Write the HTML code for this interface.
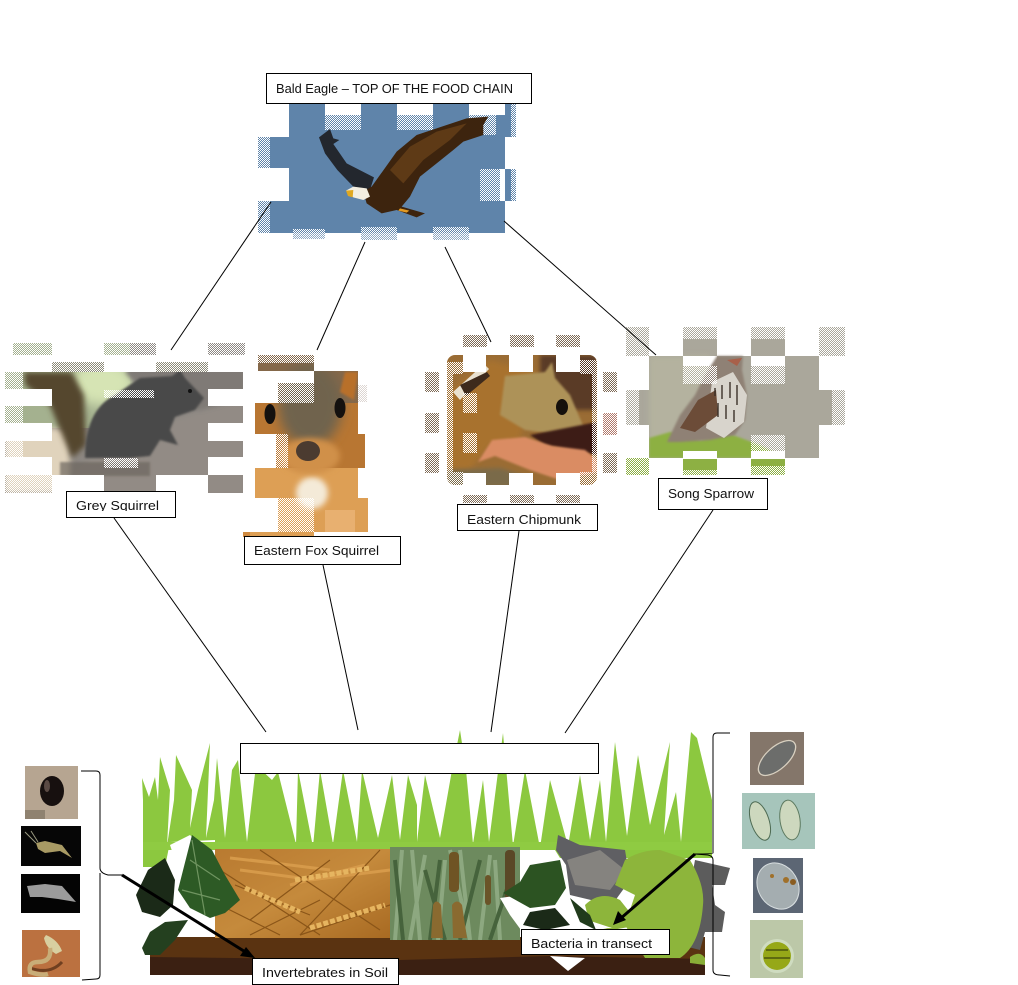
<!DOCTYPE html>
<html><head><meta charset="utf-8"><style>
html,body{margin:0;padding:0;background:#fff}
svg{display:block}
text{font-family:"Liberation Sans",sans-serif;font-size:12.5px;fill:#111}
</style></head><body>
<svg width="1018" height="985" viewBox="0 0 1018 985" xmlns="http://www.w3.org/2000/svg">
<defs>
<pattern id="d" width="2" height="2" patternUnits="userSpaceOnUse"><rect width="1" height="1" fill="#fff"/><rect x="1" y="1" width="1" height="1" fill="#fff"/></pattern>
<filter id="b1" x="-20%" y="-20%" width="140%" height="140%"><feGaussianBlur stdDeviation="1"/></filter>
<filter id="b2" x="-20%" y="-20%" width="140%" height="140%"><feGaussianBlur stdDeviation="2"/></filter>
<filter id="b3" x="-30%" y="-30%" width="160%" height="160%"><feGaussianBlur stdDeviation="3"/></filter>
<filter id="b6" x="-50%" y="-50%" width="200%" height="200%"><feGaussianBlur stdDeviation="6"/></filter>
<clipPath id="cw"><rect x="215" y="849" width="176" height="89"/></clipPath>
<clipPath id="cc"><rect x="390" y="847" width="130" height="93"/></clipPath>
<clipPath id="cg"><rect x="5" y="343" width="240" height="150"/></clipPath>
<clipPath id="cf"><rect x="243" y="355" width="125" height="182"/></clipPath>
<clipPath id="cm"><rect x="447" y="355" width="150" height="130" rx="8"/></clipPath>
<linearGradient id="wh" x1="0" y1="0" x2="1" y2="1"><stop offset="0" stop-color="#b97a30"/><stop offset=".5" stop-color="#c58a3c"/><stop offset="1" stop-color="#a86a22"/></linearGradient>
</defs>
<rect width="1018" height="985" fill="#fff"/>

<!-- EAGLE -->
<rect x="258" y="104" width="258" height="136" fill="#5f84aa"/>
<g fill="#fff">
<rect x="250" y="104" width="39" height="33"/><rect x="250" y="168" width="39" height="33"/>
<rect x="325" y="104" width="36" height="11"/><rect x="397" y="104" width="36" height="11"/><rect x="469" y="104" width="36" height="11"/>
<rect x="505" y="137" width="15" height="32"/><rect x="505" y="201" width="15" height="40"/>
<rect x="500" y="169" width="5" height="32"/>
<rect x="250" y="233" width="270" height="10"/>
</g>
<g fill="url(#d)">
<rect x="325" y="115" width="36" height="15"/><rect x="397" y="115" width="36" height="15"/><rect x="469" y="115" width="27" height="20"/>
<rect x="258" y="137" width="12" height="32"/><rect x="258" y="201" width="12" height="32"/>
<rect x="480" y="169" width="20" height="32"/><rect x="511" y="104" width="6" height="33"/><rect x="511" y="169" width="6" height="33"/>
</g>
<g fill="#5f84aa" opacity=".7">
<rect x="361" y="227" width="36" height="13"/><rect x="433" y="227" width="36" height="13"/><rect x="293" y="229" width="32" height="10"/>
</g>
<g fill="url(#d)"><rect x="361" y="227" width="36" height="13"/><rect x="433" y="227" width="36" height="13"/><rect x="293" y="229" width="32" height="10"/></g>
<g transform="translate(250 60) scale(.3333)">
<path d="M207 232 L240 207 L250 235 L268 240 L250 252 L290 310 L372 352 L360 390 L310 380 L262 330 L225 280Z" fill="#23272e"/>
<path d="M365 380 L440 275 L500 225 L560 205 L650 175 L715 170 L700 195 L700 225 L640 245 L610 270 L560 310 L510 350 L480 410 L455 440 L525 460 L500 472 L440 450 L395 460 L350 430 L340 395Z" fill="#3d240e"/>
<path d="M420 330 L480 260 L560 215 L650 190 L600 240 L520 300 L460 370Z" fill="#5e3a16"/>
<path d="M288 392 L310 380 L350 385 L360 410 L340 420 L310 412Z" fill="#f3eee0"/>
<path d="M288 392 L310 390 L308 412 L294 408Z" fill="#e0a820"/>
<path d="M450 445 L478 452 L470 458 L445 452Z" fill="#e39a22"/>
</g>

<!-- GREY SQUIRREL -->
<g clip-path="url(#cg)">
<rect x="5" y="343" width="240" height="150" fill="#8d8883"/>
<rect x="5" y="343" width="125" height="85" fill="#a4b18f"/>
<ellipse cx="102" cy="383" rx="32" ry="22" fill="#d6e4b4" filter="url(#b6)"/>
<rect x="5" y="428" width="65" height="65" fill="#e0d3bc" filter="url(#b3)"/>
<path d="M52 495 L110 440 L245 398 L245 495Z" fill="#928b85" filter="url(#b2)"/>
<path d="M125 372 L140 360 L245 365 L245 398 L200 410 L150 400Z" fill="#7f7a76" filter="url(#b2)"/>
<path d="M24 372 L72 372 L84 395 L86 445 L72 458 L60 430 L50 405 L25 385Z" fill="#54462e" filter="url(#b3)"/>
<path d="M85 458 Q85 410 115 395 L140 378 L172 376 L180 370 L185 378 L204 398 L195 410 L175 417 L170 430 L178 445 L160 440 L150 456 L130 458Z" fill="#4a4a48" filter="url(#b1)"/>
<circle cx="190" cy="391" r="2" fill="#111"/>
<rect x="60" y="462" width="90" height="14" fill="#6d665f" opacity=".7" filter="url(#b1)"/>
</g>
<g fill="#fff">
<rect x="0" y="355" width="245" height="17"/>
<rect x="0" y="389" width="52" height="17"/><rect x="208" y="389" width="37" height="17"/>
<rect x="0" y="423" width="52" height="18"/><rect x="208" y="423" width="37" height="18"/>
<rect x="0" y="457" width="52" height="18"/><rect x="208" y="457" width="37" height="18"/>
<rect x="52" y="475" width="52" height="18"/><rect x="156" y="475" width="52" height="18"/>
<rect x="0" y="343" width="13" height="12"/><rect x="52" y="343" width="52" height="12"/><rect x="156" y="343" width="52" height="12"/>
</g>
<g fill="#8d8a78"><rect x="52" y="362" width="52" height="10"/><rect x="156" y="362" width="52" height="10"/></g>
<g fill="url(#d)">
<rect x="52" y="362" width="52" height="10"/><rect x="156" y="362" width="52" height="10"/>
<rect x="13" y="343" width="39" height="12"/><rect x="104" y="343" width="52" height="12"/><rect x="208" y="343" width="37" height="12"/>
<rect x="5" y="372" width="18" height="17"/><rect x="5" y="406" width="18" height="17"/><rect x="5" y="441" width="18" height="16"/>
<rect x="43" y="389" width="9" height="17"/><rect x="43" y="423" width="9" height="18"/><rect x="208" y="389" width="11" height="17"/><rect x="208" y="423" width="11" height="18"/>
<rect x="104" y="458" width="34" height="10"/><rect x="104" y="390" width="50" height="8"/>
<rect x="5" y="475" width="47" height="18"/>
</g>

<!-- FOX SQUIRREL -->
<g clip-path="url(#cf)">
<rect x="243" y="355" width="125" height="182" fill="#cf8a40"/>
<rect x="243" y="355" width="125" height="55" fill="#85684a"/>
<rect x="250" y="403" width="118" height="65" fill="#b87632"/>
<ellipse cx="310" cy="405" rx="32" ry="42" fill="#6f634e" filter="url(#b6)"/>
<path d="M345 372 L358 372 L354 400 L340 392Z" fill="#b8702c" filter="url(#b1)"/>
<rect x="250" y="468" width="118" height="70" fill="#dd9f55"/>
<ellipse cx="312" cy="493" rx="16" ry="16" fill="#f4ead8" filter="url(#b3)"/>
<ellipse cx="310" cy="456" rx="30" ry="18" fill="#d09048" filter="url(#b3)"/>
<ellipse cx="270" cy="414" rx="5.5" ry="10" fill="#14110f"/>
<ellipse cx="340" cy="408" rx="5.5" ry="10" fill="#14110f"/>
<ellipse cx="308" cy="451" rx="12" ry="10" fill="#4b3b30"/>
<rect x="325" y="510" width="30" height="22" fill="#e8b070"/>
</g>
<g fill="#fff">
<rect x="243" y="355" width="15" height="16"/>
<rect x="314" y="355" width="54" height="16"/>
<rect x="243" y="371" width="35" height="32"/><rect x="278" y="371" width="36" height="12"/>
<rect x="358" y="371" width="10" height="33"/>
<rect x="358" y="403" width="10" height="31"/>
<rect x="243" y="403" width="12" height="31"/>
<rect x="243" y="434" width="33" height="34"/><rect x="365" y="434" width="3" height="34"/>
<rect x="243" y="468" width="12" height="30"/><rect x="358" y="468" width="10" height="30"/>
<rect x="243" y="498" width="35" height="34"/>
<rect x="314" y="532" width="54" height="5"/>
</g>
<rect x="358" y="385" width="9" height="17" fill="#ddd6d2"/>
<g fill="url(#d)">
<rect x="258" y="355" width="56" height="8"/>
<rect x="278" y="383" width="36" height="20"/><rect x="243" y="403" width="12" height="31"/><rect x="276" y="434" width="12" height="34"/>
<rect x="278" y="498" width="36" height="34"/><rect x="358" y="385" width="9" height="17"/>
</g>

<!-- CHIPMUNK -->
<g clip-path="url(#cm)">
<rect x="447" y="355" width="150" height="130" fill="#9a6c34"/>
<rect x="540" y="355" width="57" height="55" fill="#5a3a28" filter="url(#b2)"/>
<path d="M448 392 L490 360 L535 372 L520 440 L490 445 L470 470 L447 470Z" fill="#a8722e" filter="url(#b3)"/>
<path d="M453 392 L484 364 L489 369 L460 400Z" fill="#e9e1d0"/>
<path d="M460 385 L487 372 L490 376 L466 396Z" fill="#3e2a1c"/>
<path d="M505 376 L545 372 L552 362 L555 378 L570 395 L585 430 L560 435 L525 430 L500 415Z" fill="#ad9258" filter="url(#b1)"/>
<ellipse cx="562" cy="407" rx="6" ry="8" fill="#15100c"/>
<path d="M530 435 L597 422 L597 455 L545 445Z" fill="#3d1a18" filter="url(#b1)"/>
<path d="M478 462 L492 440 L525 437 L552 446 L585 450 L597 460 L597 472 L560 480 L530 470 L510 462 L495 456Z" fill="#da8c64" filter="url(#b1)"/>
<path d="M447 470 L500 468 L525 476 L530 487 L447 487Z" fill="#7a6a4a" filter="url(#b2)"/>
</g>
<g fill="#fff">
<rect x="463" y="352" width="23" height="20"/><rect x="509" y="352" width="24" height="20"/><rect x="556" y="352" width="24" height="20"/>
<rect x="463" y="473" width="23" height="14"/><rect x="509" y="473" width="24" height="14"/><rect x="556" y="473" width="24" height="14"/>
</g>
<g fill="#7e6a55"><rect x="463" y="335" width="24" height="12"/><rect x="510" y="335" width="24" height="12"/><rect x="556" y="335" width="24" height="12"/>
<rect x="463" y="495" width="24" height="8"/><rect x="510" y="495" width="24" height="8"/><rect x="556" y="495" width="24" height="8"/>
<rect x="425" y="372" width="14" height="20"/><rect x="425" y="413" width="14" height="20"/><rect x="425" y="453" width="14" height="20"/>
<rect x="603" y="372" width="14" height="20"/><rect x="603" y="453" width="14" height="20"/></g>
<rect x="603" y="413" width="14" height="22" fill="#b27a6c"/>
<g fill="url(#d)"><rect x="463" y="335" width="24" height="12"/><rect x="510" y="335" width="24" height="12"/><rect x="556" y="335" width="24" height="12"/>
<rect x="463" y="495" width="24" height="8"/><rect x="510" y="495" width="24" height="8"/><rect x="556" y="495" width="24" height="8"/>
<rect x="425" y="372" width="14" height="20"/><rect x="425" y="413" width="14" height="20"/><rect x="425" y="453" width="14" height="20"/>
<rect x="603" y="372" width="14" height="20"/><rect x="603" y="413" width="14" height="22"/><rect x="603" y="453" width="14" height="20"/>
<rect x="447" y="362" width="16" height="12"/><rect x="447" y="472" width="16" height="14"/><rect x="580" y="360" width="17" height="14"/><rect x="580" y="472" width="17" height="14"/>
<rect x="447" y="374" width="6" height="98"/><rect x="592" y="374" width="5" height="98"/>
<rect x="463" y="393" width="14" height="20"/><rect x="463" y="433" width="14" height="20"/><rect x="565" y="393" width="0" height="0"/></g>

<!-- SPARROW -->
<rect x="626" y="327" width="219" height="148" fill="#aaa79b"/>
<rect x="649" y="356" width="60" height="85" fill="#b4b29f" filter="url(#b3)"/>
<path d="M649 438 L670 432 L700 440 L730 434 L760 445 L785 458 L649 458Z" fill="#8db043" filter="url(#b1)"/>
<rect x="626" y="458" width="219" height="17" fill="#8db043"/>
<g fill="#fff">
<rect x="649" y="327" width="34" height="29"/><rect x="717" y="327" width="34" height="29"/><rect x="785" y="327" width="34" height="29"/>
<rect x="626" y="356" width="23" height="34"/><rect x="819" y="356" width="26" height="34"/>
<rect x="626" y="425" width="23" height="33"/><rect x="819" y="425" width="26" height="33"/>
<rect x="683" y="356" width="34" height="10"/><rect x="751" y="356" width="34" height="10"/>
<rect x="683" y="451" width="34" height="8"/><rect x="751" y="451" width="34" height="8"/>
<rect x="649" y="458" width="34" height="17"/><rect x="717" y="458" width="34" height="17"/><rect x="785" y="458" width="60" height="17"/>
</g>
<path d="M667 442 L680 415 L695 395 L705 375 L717 356 L743 356 L742 370 L747 395 L745 420 L735 435 L710 440 L680 442Z" fill="#8f8175" filter="url(#b1)"/>
<path d="M712 382 L733 372 L747 395 L744 422 L724 438 L706 428Z" fill="#d8d4cc"/>
<path d="M680 428 L698 400 L716 390 L718 415 L695 432Z" fill="#6c4c38"/>
<g stroke="#3b3129" stroke-width="1.4"><path d="M715 388v8M722 385v14M730 382v16M737 385v20M718 403v14M726 405v14M734 410v12"/></g>
<path d="M727 360 L742 358 L737 366Z" fill="#a8604a"/>
<g fill="url(#d)">
<rect x="683" y="366" width="34" height="18"/><rect x="751" y="366" width="34" height="18"/><rect x="751" y="435" width="34" height="16"/>
<rect x="683" y="327" width="34" height="12"/><rect x="751" y="327" width="34" height="12"/><rect x="626" y="327" width="23" height="29"/><rect x="819" y="327" width="26" height="29"/>
<rect x="626" y="390" width="13" height="35"/><rect x="832" y="390" width="13" height="35"/><rect x="626" y="458" width="23" height="17"/>
<rect x="819" y="458" width="26" height="17"/><rect x="683" y="470" width="34" height="5"/><rect x="751" y="466" width="34" height="12"/>
</g>

<!-- GRASS -->
<path fill="#8cc83f" d="M143 867 L143 800 L142 778 L149 797 L155 777 L158 800 L160 757 L170 790 L167 846 L174 800 L176 755 L192 790 L190 828 L198 790 L210 743 L206 838 L214 800 L217 758 L225 838 L232 770 L238 760 L247 842 L256 765 L272 780 L278 772 L296 844 L298 770 L313 847 L320 770 L333 844 L343 770 L357 842 L362 770 L378 838 L392 775 L400 840 L408 775 L417 805 L417 842 L425 775 L440 838 L452 770 L460 730 L466 770 L473 844 L483 780 L489 842 L503 733 L513 846 L525 770 L540 848 L550 780 L568 846 L580 775 L590 840 L600 780 L606 842 L615 742 L627 836 L638 755 L650 825 L670 742 L664 835 L676 792 L681 842 L691 732 L697 738 L712 800 L712 858 L560 858 L555 850 L215 850 L215 840 L170 842 L165 867Z"/>
<path d="M143 842 H712 V850 H143Z" fill="#8fcb42"/>

<!-- CENTRAL -->
<path d="M150 955 L170 937 L705 937 L705 975 L150 975Z" fill="#5a3311"/>
<path d="M150 957 L400 960 L550 956 L705 959 L705 975 L150 975Z" fill="#3b2012"/>
<rect x="215" y="849" width="176" height="89" fill="url(#wh)"/>
<g clip-path="url(#cw)" fill="none">
<path d="M230 858 L290 865 M240 870 L300 878 M290 885 L365 865 M310 880 L390 870 M250 860 L330 870" stroke="#d69a4a" stroke-width="3"/>
<path d="M235 885 L310 915 M300 935 L390 905 M250 935 L320 900 M330 860 L250 920 M380 850 L300 935 M210 900 L280 935 M260 850 L380 930 M220 870 L320 935" stroke="#8a5518" stroke-width="1.2"/>
<path d="M245 888 L300 912 M310 928 L385 905 M295 880 L370 868" stroke="#e6b560" stroke-width="5" stroke-dasharray="5 2"/>
</g>
<g clip-path="url(#cc)">
<rect x="390" y="847" width="130" height="93" fill="#6d8a5e"/>
<g stroke-width="4" fill="none">
<path d="M395 940 L402 850 M410 940 L425 855 M420 940 L412 850 M438 940 L445 860 M450 850 L470 940 M470 940 L460 850 M480 940 L490 855 M500 940 L495 860" stroke="#8da880"/>
<path d="M403 940 L395 860 M430 940 L440 860 M460 940 L480 860 M490 940 L510 880 M445 940 L425 870" stroke="#46633c"/>
</g>
<rect x="449" y="852" width="10" height="40" rx="4" fill="#6f5424"/>
<rect x="505" y="850" width="10" height="50" rx="4" fill="#5a4826"/>
<path d="M431 938 L433 905 Q436 898 441 905 L443 938Z" fill="#8a6a30"/>
<path d="M453 938 L452 905 Q457 898 462 905 L467 938Z" fill="#8a6a30"/>
<rect x="485" y="875" width="6" height="30" rx="3" fill="#6a5428"/>
</g>
<!-- rocks -->
<path d="M558 835 L580 845 L625 850 L630 880 L612 905 L570 895 L566 865 L556 850Z" fill="#5f5f63"/>
<path d="M567 860 L600 850 L625 870 L610 890 L575 885Z" fill="#85837f"/>
<path d="M695 860 L730 868 L725 885 L712 885 L715 905 L725 912 L722 932 L705 932 L700 950 L680 945Z" fill="#5c5c5c"/>
<!-- moss -->
<path d="M625 860 Q640 850 660 850 L690 860 Q705 885 703 905 Q700 945 680 958 L645 958 L625 925 L635 895 L615 885Z" fill="#8db53b"/>
<path d="M585 905 Q600 890 620 900 L640 925 L612 930 L590 925Z" fill="#8db53b"/>
<path d="M690 957 Q700 950 705 958 L705 965 L690 963Z" fill="#89ae37"/>
<!-- white gaps -->
<path d="M500 898 L560 890 L572 915 L612 928 L521 930 L510 915Z" fill="#fff"/>
<path d="M550 956 L585 958 L568 971Z" fill="#fff"/>
<path d="M170 845 L190 835 L215 860 L225 895 L215 915 L180 920 L175 860Z" fill="#fff"/>
<!-- leaves -->
<path d="M178 890 L192 835 L212 850 L225 875 L240 900 L225 913 L210 918 L190 908Z" fill="#2d5a25"/>
<path d="M192 840 L205 915 M190 860 L220 880 M182 890 L220 900" stroke="#6f9460" stroke-width="1.2" fill="none"/>
<path d="M136 895 L148 870 L165 858 L175 880 L173 905 L160 917 L142 912Z" fill="#1b2a18"/>
<path d="M142 948 L150 932 L165 922 L188 920 L175 940 L160 955 L145 955Z" fill="#24401f"/>
<path d="M503 893 L520 882 L530 865 L560 860 L566 888 L555 905 L530 908Z" fill="#2c5322"/>
<path d="M523 925 L530 912 L555 908 L570 925 L545 930Z" fill="#1b2a18"/>
<path d="M570 898 L590 915 L596 930 L580 922Z" fill="#213b1c"/>

<!-- connectors -->
<g stroke="#000" stroke-width="1" fill="none">
<path d="M271 202 L171 350"/><path d="M365 242 L317 350"/><path d="M445 247 L491 342"/><path d="M504 221 L656 355"/>
<path d="M114 518 L266 732"/><path d="M323 565 L358 730"/><path d="M519 531 L491 732"/><path d="M713 510 L565 733"/>
<path d="M81 771 L96 771 Q100 771 100 775 L100 868 Q100 873 108 875 L122 875"/>
<path d="M100 873 Q100 878 100 880 L100 975 Q100 979 96 979 L82 980"/>
<path d="M730 733 L717 733 Q713 733 713 737 L713 853 Q713 854 695 854"/>
<path d="M695 854 L708 855 Q713 856 713 860 L713 970 Q713 975 720 975 L730 976"/>
</g>
<g stroke="#000" stroke-width="3" fill="none"><path d="M122 875 L247 953"/><path d="M695 854 L620 919"/></g>
<path d="M255 958 L240 956 L246 947Z" fill="#000"/>
<path d="M613 925 L618 911 L626 920Z" fill="#000"/>

<!-- labels -->
<g fill="#fff" stroke="#000" stroke-width="1">
<rect x="266.500" y="73.500" width="265" height="30"/>
<rect x="66.500" y="491.500" width="109" height="26"/>
<rect x="244.500" y="536.500" width="156" height="28"/>
<rect x="457.500" y="504.500" width="140" height="26"/>
<rect x="658.500" y="478.500" width="109" height="31"/>
<rect x="240.500" y="743.500" width="358" height="30"/>
<rect x="252.500" y="958.500" width="146" height="26"/>
<rect x="521.500" y="929.500" width="148" height="25"/>
</g>
<text x="276" y="93" textLength="237" lengthAdjust="spacingAndGlyphs">Bald Eagle – TOP OF THE FOOD CHAIN</text>
<text x="76" y="510" textLength="83" lengthAdjust="spacingAndGlyphs">Grey Squirrel</text>
<rect x="70" y="511" width="100" height="5" fill="#fff"/>
<text x="254" y="555" textLength="125" lengthAdjust="spacingAndGlyphs">Eastern Fox Squirrel</text>
<text x="467" y="524" textLength="114" lengthAdjust="spacingAndGlyphs">Eastern Chipmunk</text>
<rect x="462" y="525" width="130" height="4" fill="#fff"/>
<text x="668" y="498" textLength="86" lengthAdjust="spacingAndGlyphs">Song Sparrow</text>
<text x="262" y="977" textLength="126" lengthAdjust="spacingAndGlyphs">Invertebrates in Soil</text>
<text x="531" y="948" textLength="121" lengthAdjust="spacingAndGlyphs">Bacteria in transect</text>

<!-- left thumbnails -->
<rect x="25" y="766" width="53" height="53" fill="#b6a591"/>
<ellipse cx="52" cy="791" rx="12" ry="15" fill="#17100f"/>
<ellipse cx="47" cy="786" rx="3" ry="6" fill="#5a4a44"/>
<rect x="25" y="810" width="20" height="9" fill="#8f8270"/>
<rect x="21" y="826" width="60" height="40" fill="#060606"/>
<path d="M36 843 L45 841 L62 845 L72 858 L60 851 L45 853 L38 849Z" fill="#a89a64"/>
<path d="M25 832 L36 843 M31 831 L38 842" stroke="#9a9a80" stroke-width="1"/>
<rect x="21" y="874" width="59" height="39" fill="#040404"/>
<path d="M27 886 L45 884 L62 886 L76 902 L58 899 L42 897 L30 897Z" fill="#9b9b9b"/>
<rect x="22" y="930" width="58" height="47" fill="#bb7140"/>
<path d="M30 968 Q50 975 62 962" stroke="#6f3f20" stroke-width="3" fill="none"/>
<path d="M46 935 Q58 940 62 951 L56 954 Q46 948 44 938Z" fill="#d8cfa0"/>
<path d="M50 948 Q52 962 38 962 Q28 962 30 972 Q42 976 48 974" stroke="#c8ad78" stroke-width="4.500" fill="none"/>

<!-- right thumbnails -->
<rect x="750" y="732" width="54" height="53" fill="#84766a"/>
<ellipse cx="777" cy="758" rx="11" ry="23" transform="rotate(48 777 758)" fill="#6c6d6b" stroke="#d8d0c0" stroke-width="1.300"/>
<rect x="742" y="793" width="73" height="56" fill="#a6c5bb"/>
<ellipse cx="760" cy="821" rx="9" ry="20" transform="rotate(-18 760 821)" fill="#cdd8be" stroke="#4d6a52"/>
<ellipse cx="790" cy="820" rx="10" ry="20" transform="rotate(-8 790 820)" fill="#cdd8be" stroke="#5d7a60"/>
<rect x="753" y="858" width="50" height="55" fill="#5c6674"/>
<ellipse cx="778" cy="886" rx="20" ry="24" transform="rotate(-30 778 886)" fill="#a4adb0" stroke="#d8dee0"/>
<circle cx="786" cy="880" r="3" fill="#a0702a"/><circle cx="793" cy="882" r="3" fill="#8a5c20"/><circle cx="772" cy="876" r="2" fill="#a0702a"/>
<rect x="750" y="920" width="53" height="58" fill="#bcc8a8"/>
<circle cx="777" cy="956" r="17" fill="#cfdcc0"/>
<circle cx="777" cy="956" r="14" fill="#96a818"/>
<path d="M766 950 H788 M764 958 H790" stroke="#5e6a10" stroke-width="2"/>
</svg>
</body></html>
